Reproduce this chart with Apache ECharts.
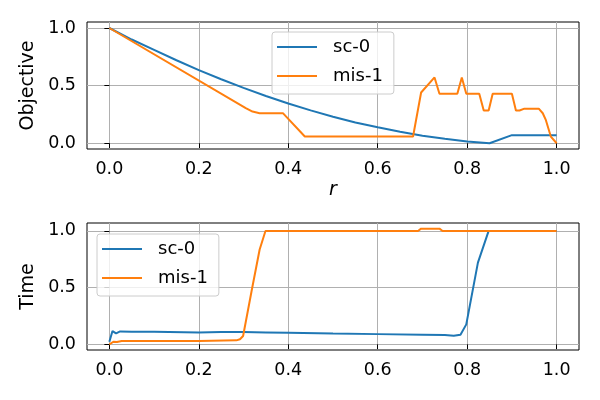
<!DOCTYPE html>
<html><head><meta charset="utf-8">
<script src="https://cdn.jsdelivr.net/npm/echarts@6/dist/echarts.min.js"></script>
<style>html,body{margin:0;padding:0;background:#fff}#c{width:600px;height:400px}</style>
</head><body><div id="c"></div><script>
// Objective panel
var objX_sc = [0, 0.05, 0.1, 0.15, 0.2, 0.25, 0.3, 0.35, 0.4, 0.45, 0.5, 0.55, 0.6, 0.65, 0.7, 0.75, 0.8, 0.85, 0.9, 0.95, 1.0];
var objY_sc = [1.0, 0.9, 0.81, 0.72, 0.635, 0.555, 0.48, 0.41, 0.345, 0.285, 0.23, 0.18, 0.138, 0.1, 0.065, 0.038, 0.015, 0.0, 0.07, 0.07, 0.07];
var objX_mis = [0, 0.305, 0.32, 0.336, 0.388, 0.437, 0.679, 0.697, 0.727, 0.738, 0.778, 0.788, 0.798, 0.827, 0.837, 0.848, 0.857, 0.9, 0.909, 0.917, 0.928, 0.96, 0.969, 0.976, 0.987, 1.0];
var objY_mis = [1.0, 0.304, 0.275, 0.261, 0.261, 0.058, 0.058, 0.44, 0.571, 0.429, 0.429, 0.571, 0.429, 0.429, 0.284, 0.284, 0.429, 0.429, 0.284, 0.284, 0.30, 0.30, 0.26, 0.2, 0.058, 0.0];
// Time panel
var timeX_sc = [0, 0.007, 0.015, 0.024, 0.05, 0.1, 0.2, 0.25, 0.3, 0.35, 0.4, 0.5, 0.6, 0.7, 0.75, 0.77, 0.785, 0.798, 0.824, 0.848, 1.0];
var timeY_sc = [0.023, 0.117, 0.097, 0.114, 0.112, 0.11, 0.104, 0.108, 0.108, 0.105, 0.102, 0.095, 0.09, 0.085, 0.082, 0.075, 0.085, 0.176, 0.72, 1.0, 1.0];
var timeX_mis = [0, 0.009, 0.017, 0.0275, 0.1, 0.2, 0.284, 0.292, 0.299, 0.318, 0.336, 0.349, 0.69, 0.697, 0.738, 0.745, 1.0];
var timeY_mis = [0, 0.023, 0.02, 0.03, 0.03, 0.03, 0.035, 0.045, 0.073, 0.47, 0.836, 1.0, 1.0, 1.02, 1.02, 1.0, 1.0];
var xTicks = [0, 0.2, 0.4, 0.6, 0.8, 1.0];
var yTicks = [0, 0.5, 1.0];
var names = ['sc-0', 'mis-1'];
var colors = ['#1f77b4', '#ff7f0e'];

function zip(xs, ys) { return xs.map(function (x, i) { return [x, ys[i]]; }); }
var FONT = 'DejaVu Sans';
function xAx(idx, name) {
  return {
    type: 'value', gridIndex: idx, min: -0.05, max: 1.05,
    name: name, nameLocation: 'middle', nameGap: 32,
    nameTextStyle: { fontFamily: FONT, fontSize: 19, fontStyle: 'italic', color: '#000' },
    axisLine: { show: false },
    axisTick: { show: true, customValues: xTicks, length: 5, lineStyle: { color: '#000', width: 1 } },
    axisLabel: { customValues: xTicks, formatter: function (v) { return v.toFixed(1); }, fontFamily: FONT, fontSize: 17.5, color: '#000', margin: 11 },
    splitLine: { show: true, lineStyle: { color: '#b0b0b0', width: 1 } }
  };
}
function yAx(idx, name, max, gap) {
  return {
    type: 'value', gridIndex: idx, min: -0.05, max: max,
    name: name, nameLocation: 'middle', nameGap: gap,
    nameTextStyle: { fontFamily: FONT, fontSize: 19, color: '#000' },
    axisLine: { show: false },
    axisTick: { show: true, customValues: yTicks, length: 5, lineStyle: { color: '#000', width: 1 } },
    axisLabel: { customValues: yTicks, formatter: function (v) { return v.toFixed(1); }, fontFamily: FONT, fontSize: 17.5, color: '#000', margin: 11 },
    splitLine: { show: true, lineStyle: { color: '#b0b0b0', width: 1 } }
  };
}
function ser(name, color, idx, data) {
  return { name: name, type: 'line', xAxisIndex: idx, yAxisIndex: idx, data: data, symbol: 'none',
    lineStyle: { color: color, width: 2 }, itemStyle: { color: color }, animation: false };
}
function leg(left, top) {
  return {
    orient: 'vertical', left: left, top: top, data: names,
    icon: 'path://M0,0H40V2H0Z',
    itemWidth: 40, itemHeight: 14, itemGap: 9,
    padding: [5, 11, 8, 5],
    borderColor: '#cccccc', borderWidth: 1, borderRadius: 3, backgroundColor: 'rgba(255,255,255,0.8)',
    textStyle: { fontFamily: FONT, fontSize: 18, color: '#000', lineHeight: 20, padding: [0, 0, 0, 11] },
    selectedMode: false
  };
}
var chart = echarts.init(document.getElementById('c'), null, { renderer: 'canvas' });
chart.setOption({
  animation: false,
  backgroundColor: '#fff',
  grid: [
    { left: 87, right: 21, top: 22, height: 127, show: true, borderColor: '#000', borderWidth: 1, backgroundColor: 'transparent' },
    { left: 87, right: 21, top: 223, height: 127, show: true, borderColor: '#000', borderWidth: 1, backgroundColor: 'transparent' }
  ],
  xAxis: [xAx(0, 'r'), xAx(1, '')],
  yAxis: [yAx(0, 'Objective', 1.052, 39), yAx(1, 'Time', 1.07, 44)],
  legend: [leg(272, 32), leg(97, 234)],
  series: [
    ser(names[0], colors[0], 0, zip(objX_sc, objY_sc)),
    ser(names[1], colors[1], 0, zip(objX_mis, objY_mis)),
    ser(names[0], colors[0], 1, zip(timeX_sc, timeY_sc)),
    ser(names[1], colors[1], 1, zip(timeX_mis, timeY_mis))
  ]
});
</script></body></html>
